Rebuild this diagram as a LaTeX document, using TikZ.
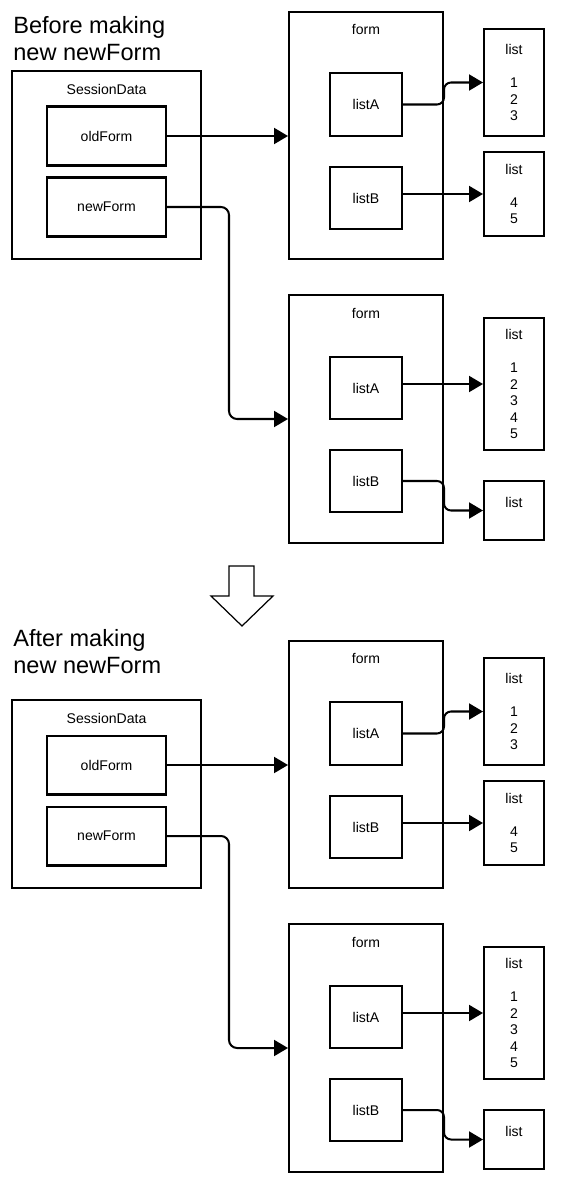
\documentclass[tikz,border=0pt]{standalone}
\usepackage{fontspec}
\setmainfont{Liberation Sans}
\usetikzlibrary{arrows.meta}

\begin{document}
\begin{tikzpicture}[
  x=0.02cm, y=-0.02cm,
  font=\fontsize{8}{9.4}\selectfont,
  box/.style={rectangle,draw,line width=1.15pt,inner sep=0pt,align=center},
  holder/.style={box,minimum width=3.78cm,minimum height=3.76cm},
  field/.style={box,minimum width=2.38cm,minimum height=1.18cm},
  frame/.style={box,minimum width=3.08cm,minimum height=4.95cm},
  member/.style={box,minimum width=1.44cm,minimum height=1.25cm},
  store/.style={box,minimum width=1.2cm},
  caption/.style={inner sep=0pt},
  heading/.style={inner sep=0pt,anchor=north west,align=left,font=\fontsize{13.4}{15.3}\selectfont},
  arrow/.style={-{Triangle[length=2.8mm,width=3.2mm]},line width=1.15pt}]
  \useasboundingbox (0,0) rectangle (567,1200);
  \foreach \p/\off/\ty/\word in {a/0/16/Before,b/629/0/After} {
    \begin{scope}[shift={(0,\off)}]
      \node[heading] (title\p) at (13,\ty) {\word\ making\\new newForm};
      % session object
      \node[holder] (sd\p) at (106.5,165) {};
      \node[caption] (sdname\p) at (106.5,89) {SessionData};
      \node[field] (old\p) at (106.5,136) {oldForm};
      \node[field] (new\p) at (106.5,207) {newForm};
      % first form
      \node[frame] (forma\p) at (366,135.5) {};
      \node[caption] (formaname\p) at (366,29) {form};
      \node[member] (la\p) at (366,104.5) {listA};
      \node[member] (lb\p) at (366,198) {listB};
      \node[store,minimum height=2.14cm] (listone\p) at (514,82.5) {list\\[9.4pt]1\\2\\3};
      \node[store,minimum height=1.68cm] (listtwo\p) at (514,194) {list\\[9.4pt]4\\5};
      % second form
      \node[frame] (formb\p) at (366,419) {};
      \node[caption] (formbname\p) at (366,313) {form};
      \node[member] (lc\p) at (366,388) {listA};
      \node[member] (ld\p) at (366,481) {listB};
      \node[store,minimum height=2.64cm] (listthree\p) at (514,384) {list\\[9.4pt]1\\2\\3\\4\\5};
      \node[store,minimum height=1.18cm] (listfour\p) at (514,510.5) {list\\\mbox{}};
      % references
      \draw[arrow] (old\p.east) -- (old\p.east -| forma\p.west);
      \draw[arrow,rounded corners=1.6mm] (new\p.east) -- ++(62,0) |- (formb\p.west);
      \draw[arrow,rounded corners=1.4mm] (la\p.east) -- (forma\p.east |- la\p.east) |- (listone\p.west);
      \draw[arrow] (lb\p.east |- listtwo\p.west) -- (listtwo\p.west);
      \draw[arrow] (lc\p.east |- listthree\p.west) -- (listthree\p.west);
      \draw[arrow,rounded corners=1.4mm] (ld\p.east) -- (formb\p.east |- ld\p.east) |- (listfour\p.west);
    \end{scope}
  }
  % hollow arrow between the two states
  \draw[line width=0.7pt] (229,566) -- (254,566) -- (254,596) -- (273,596) -- (242,626) -- (211,596) -- (229,596) -- cycle;
\end{tikzpicture}
\end{document}
